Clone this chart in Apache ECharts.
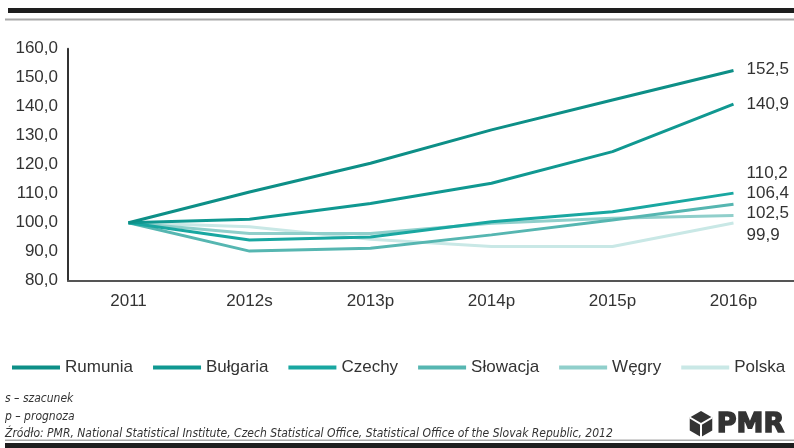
<!DOCTYPE html>
<html><head><meta charset="utf-8">
<script src="https://cdn.jsdelivr.net/npm/echarts@6/dist/echarts.min.js"></script>
<style>html,body{margin:0;padding:0;background:#fff}#c{width:794px;height:448px}</style>
</head><body><div id="c"></div>
<script>
const categories = ['2011', '2012s', '2013p', '2014p', '2015p', '2016p'];
const seriesNames = ['Rumunia', 'Bułgaria', 'Czechy', 'Słowacja', 'Węgry', 'Polska'];
const rumunia  = [100, 110.6, 120.5, 132.0, 142.3, 152.5];
const bulgaria = [100, 101.2, 106.6, 113.6, 124.5, 140.9];
const czechy   = [100, 94.0, 95.1, 100.3, 103.8, 110.2];
const slowacja = [100, 90.2, 91.2, 95.8, 100.9, 106.4];
const wegry    = [100, 96.3, 96.3, 99.8, 101.5, 102.5];
const polska   = [100, 98.6, 94.3, 91.8, 91.8, 99.9];
const yMin = 80, yMax = 160, yStep = 10;
const notes = ['s – szacunek', 'p – prognoza',
  'Źródło: PMR, National Statistical Institute, Czech Statistical Office, Statistical Office of the Slovak Republic, 2012'];

const seriesData = [rumunia, bulgaria, czechy, slowacja, wegry, polska];
const colors = ['#0d8f87', '#109891', '#19a7a1', '#56b6b1', '#90cfcb', '#c9e8e6'];
const labelDy = [-1, 0, -20, -11, -2, 12];
const fmt = v => Number(v).toFixed(1).replace('.', ',');
const FONT = "'Liberation Sans', Arial, sans-serif";

const series = seriesNames.map((name, i) => ({
  name, type: 'line', data: seriesData[i], color: colors[i],
  symbol: 'none', z: 10 - i,
  lineStyle: { width: 3, color: colors[i] },
  endLabel: { show: true, formatter: p => fmt(p.value), distance: 13, offset: [0, labelDy[i]],
    fontSize: 17, color: '#333', fontFamily: FONT }
})).reverse();

// PMR cube icon
const cx = 701, cy = 424, r = 13;
const hex = [];
for (let k = 0; k < 6; k++) { const a = -Math.PI / 2 + k * Math.PI / 3; hex.push([cx + r * Math.cos(a), cy + r * Math.sin(a)]); }

const chart = echarts.init(document.getElementById('c'), null, { renderer: 'canvas' });
chart.setOption({
  animation: false,
  backgroundColor: '#fff',
  grid: { left: 68, right: 0, top: 48.7, height: 232, containLabel: false },
  xAxis: {
    type: 'category', data: categories, boundaryGap: true,
    axisLine: { lineStyle: { color: '#555', width: 2 } },
    axisTick: { show: false },
    axisLabel: { fontSize: 17, color: '#333', fontFamily: FONT, margin: 12 }
  },
  yAxis: {
    type: 'value', min: yMin, max: yMax, interval: yStep,
    axisLine: { show: true, lineStyle: { color: '#333', width: 2 } },
    axisTick: { show: false },
    splitLine: { show: false },
    axisLabel: { fontSize: 17, color: '#333', fontFamily: FONT, margin: 10, formatter: v => fmt(v) }
  },
  legend: {
    data: seriesNames, left: 12, top: 359, width: 782, padding: 0, icon: 'rect', itemWidth: 48, itemHeight: 4, itemGap: 20,
    textStyle: { fontSize: 17, color: '#333', fontFamily: FONT }
  },
  series,
  graphic: [
    { type: 'rect', shape: { x: 8, y: 8, width: 786, height: 5 }, style: { fill: '#1e1e1e' } },
    { type: 'rect', shape: { x: 5, y: 18.5, width: 789, height: 2 }, style: { fill: '#a8a8a8' } },
    { type: 'rect', shape: { x: 5, y: 439.5, width: 789, height: 1.5 }, style: { fill: '#aaa' } },
    { type: 'rect', shape: { x: 5, y: 443, width: 789, height: 5 }, style: { fill: '#1e1e1e' } },
    ...notes.map((t, i) => ({ type: 'text', left: 5, top: 393 + i * 17.5,
      style: { text: t, fontSize: 12, fontStyle: 'italic', fill: '#333',
        fontFamily: "'Liberation Sans Narrow', 'DejaVu Sans Condensed', sans-serif" } })),
    { type: 'polygon', shape: { points: hex }, style: { fill: '#333' } },
    { type: 'polyline', shape: { points: [hex[5], [cx, cy], hex[1]] }, style: { stroke: '#fff', lineWidth: 2, fill: null } },
    { type: 'line', shape: { x1: cx, y1: cy, x2: hex[3][0], y2: hex[3][1] }, style: { stroke: '#fff', lineWidth: 2 } },
    { type: 'text', left: 716, top: 411, style: { text: 'PMR', fontSize: 27, fontWeight: 'bold', fill: '#333',
      stroke: '#333', lineWidth: 1.5, fontFamily: "'DejaVu Sans', sans-serif" } }
  ]
});
</script></body></html>
